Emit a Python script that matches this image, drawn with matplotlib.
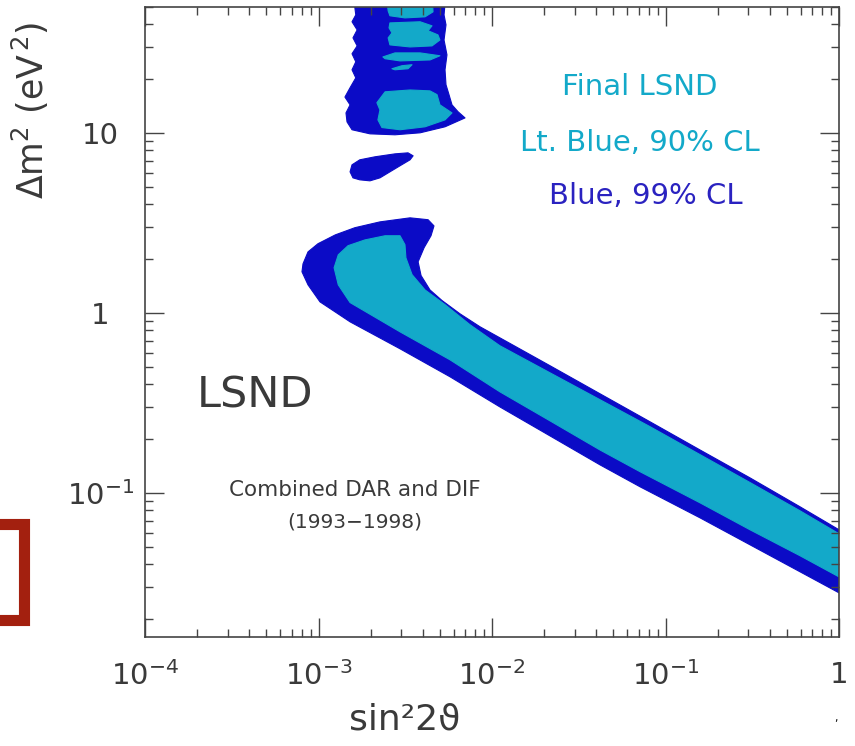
import matplotlib
matplotlib.use('Agg')
import matplotlib.pyplot as plt
from matplotlib.patches import Polygon, Rectangle
from matplotlib.ticker import FixedLocator, LogLocator, NullFormatter

# colours
dark_blue = "#0b0bc6"
lt_blue   = "#13a9c9"
txt_grey  = "#3a3a3a"

# 99% CL, main band (sin^2 2theta, dm^2) : upper edge then lower edge back
band99_x = [8.14e-4, 8.70e-4, 9.93e-4, 1.25e-3, 1.62e-3, 2.26e-3, 3.37e-3, 4.28e-3, 4.63e-3,
            4.45e-3, 4.06e-3, 3.75e-3, 3.90e-3, 4.39e-3, 5.15e-3, 6.54e-3, 8.53e-3, 1.11e-2,
            2.16e-2, 4.19e-2, 8.14e-2, 0.158, 0.307, 0.596, 1.0,
            1.0, 0.596, 0.307, 0.158, 7.13e-2, 4.19e-2, 2.16e-2, 1.11e-2, 5.73e-3, 2.95e-3,
            1.52e-3, 1.25e-3, 1.02e-3, 8.70e-4, 8.03e-4]
band99_y = [1.87, 2.18, 2.42, 2.71, 2.97, 3.20, 3.37, 3.29, 3.04,
            2.68, 2.30, 1.92, 1.61, 1.34, 1.17, 0.987, 0.836, 0.726,
            0.508, 0.355, 0.248, 0.173, 0.121, 0.0836, 0.0623,
            0.0278, 0.0364, 0.0514, 0.0726, 0.108, 0.143, 0.207, 0.300, 0.441, 0.631,
            0.891, 1.01, 1.15, 1.43, 1.69]

# 90% CL, main band
band90_x = [1.23e-3, 1.30e-3, 1.48e-3, 1.85e-3, 2.42e-3, 2.95e-3, 3.15e-3, 3.19e-3, 3.46e-3,
            4.11e-3, 5.36e-3, 7.47e-3, 1.11e-2, 2.16e-2, 4.19e-2, 8.14e-2, 0.158, 0.307,
            0.596, 1.0,
            1.0, 0.596, 0.307, 0.158, 7.13e-2, 4.19e-2, 2.16e-2, 1.11e-2, 5.73e-3, 2.95e-3,
            1.52e-3, 1.30e-3]
band90_y = [1.78, 2.10, 2.36, 2.54, 2.68, 2.68, 2.39, 2.02, 1.63,
            1.34, 1.11, 0.858, 0.656, 0.464, 0.329, 0.233, 0.163, 0.114,
            0.0794, 0.0592,
            0.0341, 0.0447, 0.0623, 0.0880, 0.131, 0.173, 0.251, 0.364, 0.548, 0.784,
            1.14, 1.43]

# 99% CL, high dm^2 region
high99_x = [1.58e-3, 1.64e-3, 1.56e-3, 1.67e-3, 1.58e-3, 1.67e-3, 1.56e-3, 1.64e-3, 1.56e-3,
            1.64e-3, 1.52e-3, 1.42e-3, 1.52e-3, 1.44e-3, 1.46e-3, 1.56e-3,
            1.98e-3, 2.76e-3, 3.85e-3, 5.36e-3, 6.99e-3,
            6.37e-3, 5.88e-3, 5.65e-3, 5.43e-3, 5.36e-3, 5.50e-3, 5.29e-3, 5.43e-3, 5.29e-3,
            5.43e-3]
high99_y = [60.0, 45.2, 41.4, 37.3, 33.7, 30.4, 27.5, 24.8, 22.4,
            20.2, 17.8, 15.8, 14.3, 12.9, 11.5, 10.4,
            9.87, 9.75, 10.0, 10.8, 12.1,
            13.1, 14.3, 16.3, 18.5, 22.4, 27.1, 32.8, 39.8, 45.2,
            60.0]

# 90% CL islands inside the high dm^2 region
isl1_x = [2.45e-3, 4.51e-3, 4.57e-3, 4.11e-3, 3.15e-3, 2.58e-3, 2.52e-3]
isl1_y = [60.0, 60.0, 47.0, 44.1, 43.5, 44.7, 47.6]
isl2_x = [2.58e-3, 3.85e-3, 4.51e-3, 4.28e-3, 4.88e-3, 5.01e-3, 4.51e-3, 3.37e-3, 2.58e-3,
          2.52e-3, 2.65e-3, 2.55e-3]
isl2_y = [40.8, 41.4, 39.3, 36.9, 35.0, 32.8, 30.4, 30.0, 30.8, 33.7, 35.9, 38.3]
isl3_x = [2.35e-3, 2.76e-3, 3.85e-3, 5.01e-3, 4.39e-3, 2.95e-3, 2.42e-3]
isl3_y = [26.4, 27.8, 27.8, 26.8, 25.4, 25.1, 25.8]
isl4_x = [2.65e-3, 3.03e-3, 3.46e-3, 3.28e-3, 2.76e-3]
isl4_y = [22.7, 23.6, 23.9, 22.7, 22.4]
isl5_x = [2.17e-3, 2.42e-3, 3.37e-3, 4.39e-3, 4.82e-3, 5.01e-3, 5.88e-3, 5.36e-3, 4.11e-3,
          2.95e-3, 2.32e-3, 2.20e-3, 2.26e-3]
isl5_y = [14.7, 16.9, 17.3, 17.1, 16.3, 14.3, 12.9, 11.8, 10.8, 10.4, 10.7, 11.8, 13.4]

# 99% CL small island around 6 eV^2
small99_x = [1.52e-3, 1.56e-3, 1.73e-3, 2.12e-3, 2.76e-3, 3.28e-3, 3.51e-3, 3.37e-3, 2.95e-3,
             2.58e-3, 2.26e-3, 1.98e-3, 1.73e-3, 1.58e-3]
small99_y = [6.07, 6.64, 7.08, 7.36, 7.64, 7.74, 7.45, 7.08, 6.56, 6.07, 5.62, 5.41, 5.48, 5.62]

x_ticks  = [1e-4, 1e-3, 1e-2, 1e-1, 1]
x_labels = [r"$10^{-4}$", r"$10^{-3}$", r"$10^{-2}$", r"$10^{-1}$", "1"]
y_ticks  = [1e-1, 1, 10]
y_labels = [r"$10^{-1}$", "1", "10"]

fig = plt.figure(figsize=(8.55, 7.46), dpi=100)
ax = fig.add_axes([0.1696, 0.1461, 0.8117, 0.8445])
ax.set_xscale('log')
ax.set_yscale('log')
ax.set_xlim(1e-4, 1)
ax.set_ylim(0.0158, 50)

def add_region(xs, ys, color):
  ax.add_patch(Polygon(list(zip(xs, ys)), closed=True, facecolor=color, edgecolor=color,
                       linewidth=0.8, joinstyle='round'))

add_region(band99_x, band99_y, dark_blue)
add_region(band90_x, band90_y, lt_blue)
add_region(high99_x, high99_y, dark_blue)
for xs, ys in [(isl1_x, isl1_y), (isl2_x, isl2_y), (isl3_x, isl3_y), (isl4_x, isl4_y), (isl5_x, isl5_y)]:
  add_region(xs, ys, lt_blue)
add_region(small99_x, small99_y, dark_blue)

# ticks
ax.xaxis.set_major_locator(FixedLocator(x_ticks))
ax.yaxis.set_major_locator(FixedLocator(y_ticks))
ax.xaxis.set_minor_locator(LogLocator(base=10, subs=range(2, 10), numticks=20))
ax.yaxis.set_minor_locator(LogLocator(base=10, subs=range(2, 10), numticks=20))
ax.xaxis.set_minor_formatter(NullFormatter())
ax.yaxis.set_minor_formatter(NullFormatter())
ax.set_xticklabels(x_labels)
ax.set_yticklabels(y_labels)
ax.tick_params(which='both', direction='in', top=True, right=True, color='#444444', width=1.0)
ax.tick_params(which='major', length=14)
ax.tick_params(which='minor', length=6)
ax.tick_params(axis='x', labelsize=21, labelcolor=txt_grey, pad=17)
ax.tick_params(axis='y', labelsize=21, labelcolor=txt_grey, pad=32)
for lbl in ax.get_yticklabels():
  lbl.set_horizontalalignment('center')
for sp in ax.spines.values():
  sp.set_color('#444444')
  sp.set_linewidth(1.2)

# axis titles
fig.text(405/855, 1-720/746, "sin²2ϑ", fontsize=26, color=txt_grey, ha='center', va='center')
fig.text(30/855, 1-110/746, r"$\Delta$m$^{2}$ (eV$^{\,2}$)", fontsize=25, color=txt_grey,
         rotation=90, ha='center', va='center')

# annotations
ax.text(640/855, 1-87/746, "Final LSND", transform=fig.transFigure, fontsize=21,
        color=lt_blue, ha='center', va='center')
ax.text(640/855, 1-143/746, "Lt. Blue, 90% CL", transform=fig.transFigure, fontsize=21,
        color=lt_blue, ha='center', va='center')
ax.text(646/855, 1-196/746, "Blue, 99% CL", transform=fig.transFigure, fontsize=21,
        color="#2a22c0", ha='center', va='center')
ax.text(255/855, 1-395/746, "LSND", transform=fig.transFigure, fontsize=31,
        color=txt_grey, ha='center', va='center')
ax.text(355/855, 1-490/746, "Combined DAR and DIF", transform=fig.transFigure, fontsize=15.5,
        color=txt_grey, ha='center', va='center')
ax.text(355/855, 1-522/746, "(1993−1998)", transform=fig.transFigure, fontsize=14.5,
        color=txt_grey, ha='center', va='center')

# red frame from the slide, partly off the left edge
fig.patches.append(Rectangle((-20/855, 1-620/746), 43.5/855, 96/746, transform=fig.transFigure,
                             fill=False, edgecolor='#a3200f', linewidth=8, figure=fig))
fig.text(836/855, 1-718/746, ",", fontsize=8, color='k', ha='center', va='center')

fig.savefig("out.png", dpi=100)
